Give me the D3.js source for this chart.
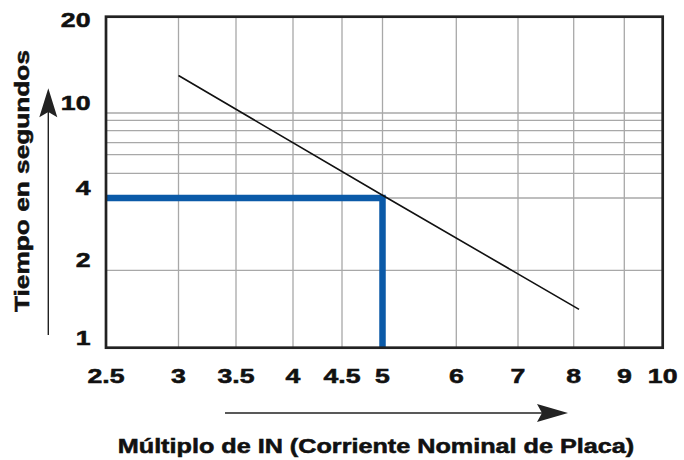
<!DOCTYPE html>
<html><head><meta charset="utf-8">
<script src="https://cdn.jsdelivr.net/npm/d3@7"></script>
<style>body{margin:0;background:#fff}</style>
</head><body><svg id="c" width="684" height="460"></svg>
<script>
// ---- data ----
const xTickValues = [2.5, 3, 3.5, 4, 4.5, 5, 6, 7, 8, 9, 10];
const xGridValues = [3, 3.5, 4, 4.5, 5, 6, 7, 8, 9];
const yTickValues = [1, 2, 4, 10, 20];
const yGridValues = [2, 4, 5, 6, 7, 8, 9, 10];
const curveMultiples = [3, 5, 8.1];
const curveTimes = [13.1, 4.1, 1.41];
const markerMultiple = 5;
const markerTime = 4;
const xTitle = "Múltiplo de IN (Corriente Nominal de Placa)";
const yTitle = "Tiempo en segundos";

// ---- layout (non-uniform log chart paper) ----
const L = 106, R = 662.7, T = 16.7, B = 347.7;
const xPaper = [L, 178.5, 236, 293, 342, 382.5, 456.3, 518, 573.7, 624.3, R];
const yPaperDomain = [1, 2, 4, 5, 6, 7, 8, 9, 10, 20];
const yPaper = [B, 270.3, 198, 173.3, 154.7, 142.7, 130.7, 120.3, 113, T];

const x = d3.scaleLog().domain(xTickValues).range(xPaper);
const y = d3.scaleLog().domain(yPaperDomain).range(yPaper);

const svg = d3.select("#c");
const font = "'Liberation Sans', Arial, Helvetica, sans-serif";

// grid
const g = svg.append("g").attr("stroke", "#a8a8a8").attr("stroke-width", 1.3);
g.selectAll("line.v").data(xGridValues).join("line")
  .attr("x1", d => x(d)).attr("x2", d => x(d)).attr("y1", T).attr("y2", B);
g.selectAll("line.h").data(yGridValues).join("line")
  .attr("y1", d => y(d)).attr("y2", d => y(d)).attr("x1", L).attr("x2", R);

// blue marker
svg.append("path")
  .attr("d", d3.line()([[x(2.5), y(markerTime)], [x(markerMultiple), y(markerTime)], [x(markerMultiple), y(1)]]))
  .attr("fill", "none").attr("stroke", "#0b5aa8").attr("stroke-width", 6.5)
  .attr("stroke-linejoin", "miter");

// curve
svg.append("path")
  .datum(curveMultiples.map((m, i) => [m, curveTimes[i]]))
  .attr("d", d3.line().x(d => x(d[0])).y(d => y(d[1])))
  .attr("fill", "none").attr("stroke", "#111").attr("stroke-width", 1.6);

// frame
svg.append("rect").attr("x", L).attr("y", T).attr("width", R - L).attr("height", B - T)
  .attr("fill", "none").attr("stroke", "#222").attr("stroke-width", 2.7);

function boldText(sel) {
  return sel.attr("font-family", font).attr("font-weight", "bold")
    .attr("fill", "#111").attr("stroke", "#111").attr("stroke-width", 0.55);
}

// tick labels
const sx = 1.27;
boldText(svg.append("g").selectAll("text").data(xTickValues).join("text")
  .attr("transform", d => `translate(${x(d)},383) scale(${sx},1)`)
  .attr("text-anchor", "middle").attr("font-size", 21).text(d => d));
boldText(svg.append("g").selectAll("text").data(yTickValues).join("text")
  .attr("transform", d => `translate(90.5,${Math.max(y(d) - 3, T + 10)}) scale(${sx},1)`)
  .attr("text-anchor", "end").attr("font-size", 21).text(d => d));

// titles
boldText(svg.append("text")
  .attr("transform", `translate(376,453) scale(1.2,1)`)
  .attr("text-anchor", "middle").attr("font-size", 21).text(xTitle));
boldText(svg.append("text")
  .attr("transform", `translate(29,181) rotate(-90) scale(1.25,1)`)
  .attr("text-anchor", "middle").attr("font-size", 21).text(yTitle));

// arrows
const ac = "#222";
svg.append("line").attr("x1", 48.3).attr("x2", 48.3).attr("y1", 335).attr("y2", 110)
  .attr("stroke", ac).attr("stroke-width", 1.4);
svg.append("path").attr("d", "M48.3,88.3 L57.3,117.3 L48.3,112 L39.3,117.3 Z").attr("fill", ac);
svg.append("line").attr("x1", 225).attr("x2", 545).attr("y1", 413).attr("y2", 413)
  .attr("stroke", ac).attr("stroke-width", 1.4);
svg.append("path").attr("d", "M568,413 L537,404 L542,413 L537,422 Z").attr("fill", ac);
</script></body></html>
